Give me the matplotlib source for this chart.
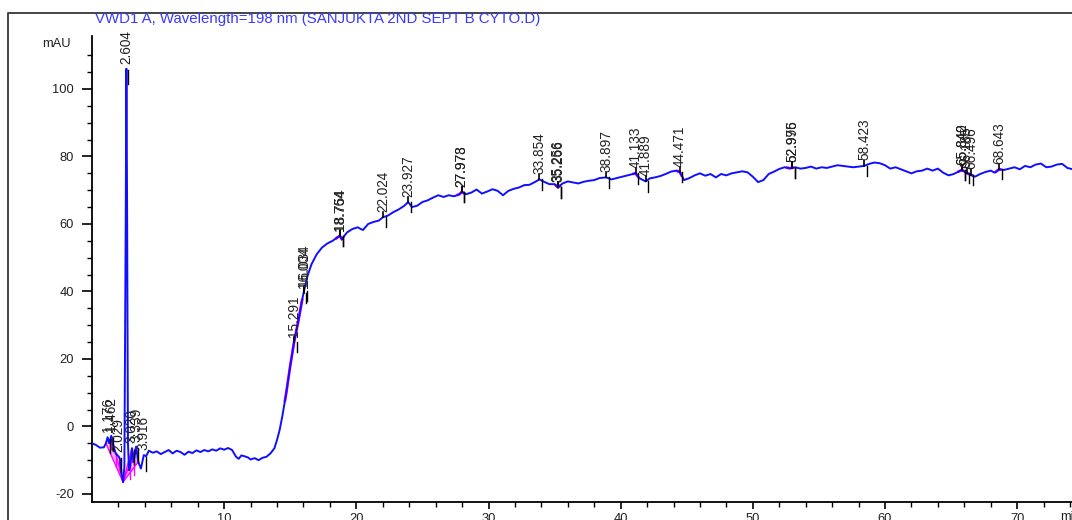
import numpy as np
import matplotlib
matplotlib.use("Agg")
import matplotlib.pyplot as plt
from matplotlib.lines import Line2D

# ---------------- data ----------------
time_min = [0.0, 0.3, 0.6, 0.9, 1.05, 1.18, 1.3, 1.46, 1.6, 1.8, 2.03, 2.12, 2.25, 2.35, 2.45, 2.55,
            2.604, 2.65, 2.72, 2.8, 2.9, 3.02, 3.15, 3.34, 3.5, 3.7, 3.92, 4.1, 4.3, 4.6, 4.9, 5.2,
            5.5, 5.8, 6.1, 6.4, 6.7, 7.0, 7.3, 7.6, 7.9, 8.2, 8.5, 8.8, 9.1, 9.4, 9.7, 10.0, 10.3,
            10.6, 10.9, 11.1, 11.3, 11.5, 11.8, 12.0, 12.3, 12.6, 12.9, 13.2, 13.5, 13.8, 14.0,
            14.2, 14.4, 14.7, 15.0, 15.29, 15.6, 15.9, 16.03, 16.3, 16.6, 17.0, 17.4, 17.8, 18.2,
            18.5, 18.75, 18.9, 19.3, 19.7, 20.1, 20.5, 20.9, 21.3, 21.7, 22.02, 22.4, 22.8, 23.2,
            23.6, 23.93, 24.2, 24.6, 25.0, 25.4, 25.8, 26.2, 26.6, 27.0, 27.4, 27.8, 27.98, 28.3,
            28.7, 29.1, 29.5, 29.9, 30.3, 30.7, 31.1, 31.5, 31.9, 32.3, 32.7, 33.1, 33.5, 33.85,
            34.2, 34.6, 35.0, 35.26, 35.6, 36.0, 36.4, 36.8, 37.2, 37.6, 38.0, 38.4, 38.9, 39.3,
            39.7, 40.1, 40.5, 40.9, 41.13, 41.4, 41.89, 42.2, 42.6, 43.0, 43.4, 43.8, 44.2, 44.47,
            44.8, 45.2, 45.6, 46.0, 46.4, 46.8, 47.2, 47.6, 48.0, 48.4, 48.8, 49.2, 49.6, 50.0,
            50.4, 50.8, 51.2, 51.6, 52.0, 52.4, 52.8, 53.2, 53.6, 54.0, 54.4, 54.8, 55.2, 55.6,
            56.0, 56.4, 56.8, 57.2, 57.6, 58.0, 58.42, 58.8, 59.2, 59.6, 60.0, 60.4, 60.8, 61.2,
            61.6, 62.0, 62.4, 62.8, 63.2, 63.6, 64.0, 64.4, 64.8, 65.2, 65.6, 65.84, 66.1, 66.5,
            66.8, 67.2, 67.6, 68.0, 68.3, 68.64, 69.0, 69.4, 69.8, 70.2, 70.6, 71.0, 71.4, 71.8,
            72.2, 72.6, 73.0, 73.4, 73.8, 74.2, 74.6, 75.0, 75.5, 76.0]
signal_mau = [-5.0, -5.5, -6.3, -6.2, -5.0, -3.2, -5.0, -2.8, -6.0, -8.0, -9.0, -9.8, -14.5, -16.5,
              -12.0, 60.0, 106.0, 70.0, -5.0, -13.0, -11.5, -6.5, -10.5, -6.0, -10.5, -12.5, -8.5,
              -8.8, -7.2, -7.8, -7.4, -8.2, -7.6, -7.0, -8.0, -7.2, -7.6, -8.4, -7.5, -7.9, -7.1,
              -7.6, -7.0, -7.4, -6.8, -7.2, -6.5, -6.9, -6.4, -7.0, -9.0, -9.6, -8.6, -8.8, -9.2,
              -9.8, -9.4, -10.0, -9.3, -9.0, -8.0, -6.5, -4.0, -1.0, 3.0, 10.0, 18.0, 25.0, 31.0,
              37.5, 40.0, 44.5, 48.0, 51.0, 53.0, 54.2, 55.0, 55.8, 56.5, 55.5, 57.5, 58.5, 59.0,
              58.2, 60.0, 60.6, 61.0, 62.0, 62.5, 63.5, 64.3, 65.3, 66.5, 65.0, 65.4, 66.5, 67.0,
              67.8, 68.5, 68.0, 68.5, 68.2, 68.8, 69.5, 68.8, 69.3, 70.2, 69.0, 69.6, 70.3, 69.8,
              68.5, 69.8, 70.4, 70.8, 71.5, 71.6, 72.4, 73.2, 72.5, 71.8, 71.8, 70.8, 72.0, 72.6,
              72.3, 72.0, 72.5, 72.8, 73.0, 73.6, 73.8, 73.2, 73.6, 74.0, 74.4, 74.8, 75.0, 73.6,
              72.6, 73.5, 73.8, 74.2, 74.8, 75.5, 75.8, 75.4, 73.0, 73.6, 74.4, 75.0, 74.3, 74.8,
              73.8, 74.8, 74.4, 75.0, 75.3, 75.6, 75.3, 74.0, 72.4, 73.0, 74.8, 75.5, 76.3, 76.8,
              76.5, 76.8, 76.4, 76.6, 77.0, 76.4, 76.8, 76.6, 77.0, 77.4, 77.2, 77.0, 76.8, 77.0,
              77.2, 77.8, 78.2, 78.0, 77.4, 76.4, 76.8, 76.2, 75.6, 75.0, 75.6, 75.8, 76.4, 75.8,
              76.4, 75.2, 74.4, 74.8, 75.6, 76.0, 75.2, 74.6, 74.0, 74.8, 75.4, 75.8, 75.2, 76.2,
              76.0, 76.4, 76.8, 76.2, 77.2, 76.8, 77.6, 77.9, 76.8, 77.0, 77.6, 77.8, 76.6, 76.2,
              76.8, 76.4, 76.6, 76.8]

peak_times = [1.176, 1.462, 2.029, 2.604, 3.020, 3.339, 3.916, 15.291, 16.004, 16.034, 18.754,
              18.764, 22.024, 23.927, 27.973, 27.978, 33.854, 35.256, 35.266, 38.897, 41.133,
              41.889, 44.471, 52.975, 52.996, 58.423, 65.840, 65.842, 66.185, 66.496, 68.643]
peak_labels = ["1.176", "1.462", "2.029", "2.604", "3.020", "3.339", "3.916", "15.291", "16.004",
               "16.034", "18.754", "18.764", "22.024", "23.927", "27.973", "27.978", "33.854",
               "35.256", "35.266", "38.897", "41.133", "41.889", "44.471", "52.975", "52.996",
               "58.423", "65.840", "65.842", "66.185", "66.496", "68.643"]

x_ticks = [10, 20, 30, 40, 50, 60, 70]
y_ticks = [-20, 0, 20, 40, 60, 80, 100]

title_text = "VWD1 A, Wavelength=198 nm (SANJUKTA 2ND SEPT B CYTO.D)"

# ---------------- figure ----------------
plt.rcParams['font.family'] = ['Liberation Sans', 'DejaVu Sans']
plt.rcParams['axes.unicode_minus'] = False
W, H = 1072, 520
fig = plt.figure(figsize=(W / 100, H / 100), dpi=100)
x0, x1 = 0.0, 76.0
ax_left = 92 / W
ax_bottom = 1 - 502 / H
ax_top = 1 - 36 / H
px_per_min = (1017 - 224) / 60.0
ax_w = (x1 - x0) * px_per_min / W
ax = fig.add_axes([ax_left, ax_bottom, ax_w, ax_top - ax_bottom])
ax.set_xlim(x0, x1)
ax.set_ylim(-22.4, 115.7)

t = np.array(time_min)
s = np.array(signal_mau)

# early-region magenta baselines / fills
ax.fill([1.05, 1.46, 2.35], [-5.0, -2.8, -16.5], color='#ff66ff', alpha=0.55, lw=0, zorder=1)
ax.fill([2.35, 3.34, 3.5], [-16.5, -6.0, -10.5], color='#ff66ff', alpha=0.55, lw=0, zorder=1)
for (xa, ya, xb, yb) in [(1.05, -5.0, 2.35, -16.5), (1.46, -2.8, 2.35, -16.5),
                         (2.35, -16.5, 3.34, -6.0), (2.35, -16.5, 3.5, -10.5),
                         (2.35, -16.5, 3.02, -6.5)]:
    ax.plot([xa, xb], [ya, yb], color='#ff00ff', lw=1.0, zorder=2)
for xp in [1.46, 1.8, 2.03, 2.9, 3.02, 3.15]:
    yv = np.interp(xp, t, s)
    ax.plot([xp, xp], [yv, yv - 4], color='#ff00ff', lw=1.0, zorder=2)

# magenta baseline segments at peaks
for (xa, xb) in [(14.6, 15.9), (18.5, 18.9), (27.7, 28.1), (35.1, 35.4), (41.0, 41.3),
                 (44.3, 44.6), (52.6, 53.0), (65.6, 65.9), (66.2, 66.6), (68.4, 68.7)]:
    mask = (t >= xa) & (t <= xb)
    xs = np.concatenate([[xa], t[mask], [xb]])
    ys = np.interp(xs, t, s)
    ax.plot(xs, ys, color='#ff00ff', lw=2.0, zorder=2)

ax.plot(t, s, color='#1010ff', lw=1.4, zorder=3)

# peak markers and labels
for pt, lab in zip(peak_times, peak_labels):
    yv = np.interp(pt, t, s)
    if pt < 4.5:
        off = 1.5
        base = yv + off
        ax.plot([pt + 0.15, pt + 0.15], [yv - 0.5, yv - 4.5], color='black', lw=1.0, zorder=4)
    else:
        off = 1.6
        base = yv + off
        ax.plot([pt, pt], [yv, yv + off], color='black', lw=1.2, zorder=4)
        ax.plot([pt + 0.2, pt + 0.2], [yv, yv - 3.0], color='black', lw=1.0, zorder=4)
    ax.text(pt, base, lab, rotation=90, ha='center', va='bottom', fontsize=9.8,
            color='#222222', zorder=5)

# axes styling
for sp in ['top', 'right']:
    ax.spines[sp].set_visible(False)
for sp in ['left', 'bottom']:
    ax.spines[sp].set_linewidth(1.3)
ax.set_xticks(x_ticks)
ax.set_yticks(y_ticks)
ax.set_xticks(np.arange(2, 76, 2), minor=True)
ax.set_yticks(np.arange(-20, 115, 5), minor=True)
ax.tick_params(axis='y', which='major', length=7, width=1.2, labelsize=9.3, pad=6,
               labelcolor='#222222')
ax.tick_params(axis='y', which='minor', length=3.5, width=1.0)
ax.tick_params(axis='x', which='major', length=5, width=1.2, labelsize=9.3, pad=3,
               labelcolor='#222222')
ax.tick_params(axis='x', which='minor', length=3.5, width=1.0)

# texts
fig.text(95 / W, 1 - 19 / H, title_text, ha='left', va='center', fontsize=10.8,
         color='#3a3aff')
fig.text(56 / W, 1 - 44 / H, "mAU", ha='center', va='center', fontsize=9.3, color='#222222')
fig.text(1060 / W, 1 - 517 / H, "min", ha='left', va='center', fontsize=9.3, color='#222222')

# outer frame
fig.add_artist(Line2D([8 / W, 8 / W, 1.0], [0.0, 1 - 13 / H, 1 - 13 / H],
                      transform=fig.transFigure, color='#444444', lw=1.4))

fig.savefig("out.png", dpi=100)
